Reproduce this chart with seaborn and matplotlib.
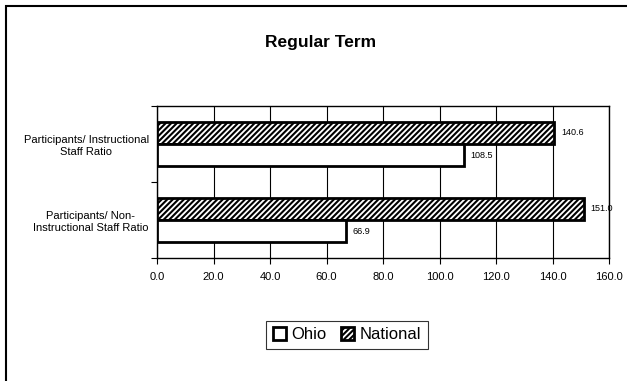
import numpy as np
import pandas as pd
import seaborn as sns
import matplotlib.pyplot as plt
from matplotlib.patches import Patch, Rectangle

categories = ["Participants/ Instructional\nStaff Ratio",
              "Participants/ Non-\nInstructional Staff Ratio"]
ohio = [108.5, 66.9]
national = [140.6, 151.0]
xticks = [0, 20, 40, 60, 80, 100, 120, 140, 160]

df = pd.DataFrame({
    "category": categories * 2,
    "group": ["National"] * 2 + ["Ohio"] * 2,
    "value": national + ohio,
})

sns.set_style("white")
plt.rcParams['font.family'] = ['Liberation Sans', 'DejaVu Sans']
plt.rcParams['hatch.linewidth'] = 1.5
plt.rcParams['text.color'] = 'black'
plt.rcParams['xtick.color'] = 'black'
plt.rcParams['ytick.color'] = 'black'

fig = plt.figure(figsize=(6.27, 3.81), dpi=100)
ax = fig.add_axes([0.2504, 0.3228, 0.7209, 0.399])

sns.barplot(data=df, y="category", x="value", hue="group",
            hue_order=["National", "Ohio"], order=categories,
            orient="h", width=0.58, palette=["white", "white"],
            edgecolor="black", linewidth=2, legend=False, ax=ax, zorder=3)

# hatch the national bars
for bar in ax.containers[0]:
    bar.set_hatch("//////")

for cont in ax.containers:
    ax.bar_label(cont, fmt="%.1f", padding=5, fontsize=6.5, color="black")

ax.set_xlim(0, 160)
ax.set_ylim(1.5, -0.5)
ax.set_xticks(xticks)
ax.set_xticklabels([f"{v:.1f}" for v in xticks], fontsize=8)
ax.set_yticks([-0.5, 0.5, 1.5])
ax.set_yticklabels([])
ax.set_yticks([0, 1], minor=True)
ax.set_yticklabels(categories, minor=True, fontsize=8, multialignment="center")
ax.tick_params(axis="y", which="minor", length=0, pad=6)
ax.tick_params(axis="y", which="major", length=4, direction="out", color="black", left=True)
ax.tick_params(axis="x", length=4, direction="out", color="black", bottom=True, pad=6)
ax.set_xlabel("")
ax.set_ylabel("")
ax.grid(axis="x", color="black", linewidth=0.8, zorder=0)
for s in ax.spines.values():
    s.set_color("black")
    s.set_linewidth(1)

fig.text(321 / 627, 1 - 43 / 381, "Regular Term", ha="center", va="center",
         fontsize=12.5, fontweight="bold")

handles = [Patch(facecolor="white", edgecolor="black", linewidth=2, label="Ohio"),
           Patch(facecolor="white", edgecolor="black", linewidth=2, hatch="//////", label="National")]
leg = fig.legend(handles=handles, loc="center", bbox_to_anchor=(0.553, 0.121), ncol=2,
                 fontsize=12, frameon=True, fancybox=False, edgecolor="black",
                 handlelength=0.8, handleheight=0.8, handletextpad=0.3, columnspacing=0.9,
                 borderpad=0.4)
leg.get_frame().set_linewidth(0.8)

fig.patches.append(Rectangle((6 / 627, -0.1), 1.2, 1.1 - 6 / 381, transform=fig.transFigure,
                             fill=False, edgecolor="black", linewidth=1.5))

fig.savefig("out.png", dpi=100)
